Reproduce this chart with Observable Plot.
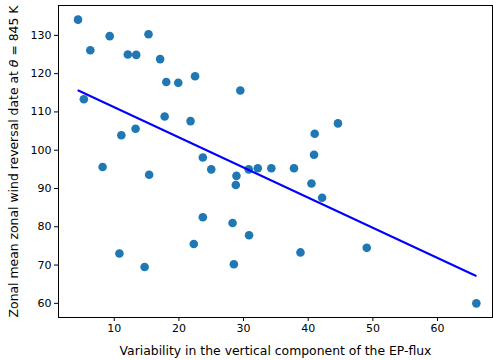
<!DOCTYPE html>
<html>
<head>
<meta charset="utf-8">
<script src="https://cdn.jsdelivr.net/npm/d3@7"></script>
<script src="https://cdn.jsdelivr.net/npm/@observablehq/plot@0.6"></script>
<style>
  html, body { margin: 0; padding: 0; background: #fff; }
  svg { display: block; }
</style>
</head>
<body>
<div id="chart"></div>
<script>
// Scatter data
const variability = [4.4, 9.3, 6.3, 12.1, 13.4, 15.3, 17.1, 18.05, 19.9, 22.5, 29.5, 5.3, 17.8, 21.8, 13.3, 11.1, 8.2, 15.4, 23.7, 25.0, 28.9, 30.8, 32.2, 34.3, 37.8, 44.6, 41.0, 40.9, 28.8, 23.7, 28.3, 30.85, 22.3, 10.8, 14.7, 28.5, 40.5, 42.15, 38.8, 49.05, 66.0];
const reversalDate = [134.1, 129.8, 126.1, 125.0, 124.9, 130.3, 123.8, 117.8, 117.6, 119.3, 115.6, 113.3, 108.8, 107.6, 105.6, 103.9, 95.6, 93.6, 98.1, 95.0, 93.3, 95.0, 95.3, 95.3, 95.3, 107.0, 104.3, 98.8, 90.9, 82.5, 81.0, 77.8, 75.5, 73.0, 69.5, 70.2, 91.3, 87.6, 73.3, 74.5, 60.0];
// Fitted line endpoints
const fitX = [4.45, 65.9];
const fitY = [115.6, 67.2];
const xTicks = [10, 20, 30, 40, 50, 60];
const yTicks = [60, 70, 80, 90, 100, 110, 120, 130];

const points = variability.map((v, i) => ({x: v, y: reversalDate[i]}));
const fit = fitX.map((v, i) => ({x: v, y: fitY[i]}));

const chart = Plot.plot({
  width: 493,
  height: 360,
  marginLeft: 58,
  marginRight: 1,
  marginTop: 5,
  marginBottom: 43,
  style: {fontFamily: "DejaVu Sans", fontSize: "11px", color: "#000", background: "#fff"},
  x: {domain: [1.38, 68.5]},
  y: {domain: [56.3, 137.8]},
  marks: [
    Plot.axisX({ticks: xTicks, tickSize: 4, tickPadding: 3, label: null}),
    Plot.axisX({ticks: [], tickSize: 0, label: "Variability in the vertical component of the EP-flux", labelAnchor: "center", labelArrow: "none", labelOffset: 37, fontSize: 12.4}),
    Plot.axisY({ticks: yTicks, tickSize: 4, tickPadding: 3, label: null}),
    Plot.axisY({ticks: [], tickSize: 0, label: "Zonal mean zonal wind reversal date at θ = 845 K", labelAnchor: "center", labelArrow: "none", labelOffset: 49, fontSize: 12.4}),
    Plot.dot(points, {x: "x", y: "y", r: 4.3, fill: "#1f77b4", stroke: "none"}),
    Plot.line(fit, {x: "x", y: "y", stroke: "#0000ff", strokeWidth: 2}),
    Plot.frame({stroke: "#000", strokeWidth: 1})
  ]
});
document.getElementById("chart").appendChild(chart);
chart.querySelectorAll("text").forEach(t => {
  if (t.textContent.includes("θ")) {
    const parts = t.textContent.split("θ");
    t.textContent = "";
    const ns = "http://www.w3.org/2000/svg";
    const a = document.createElementNS(ns, "tspan"); a.textContent = parts[0];
    const b = document.createElementNS(ns, "tspan"); b.textContent = "θ"; b.setAttribute("font-style", "italic");
    const c = document.createElementNS(ns, "tspan"); c.textContent = parts[1];
    t.append(a, b, c);
  }
});
</script>
</body>
</html>
